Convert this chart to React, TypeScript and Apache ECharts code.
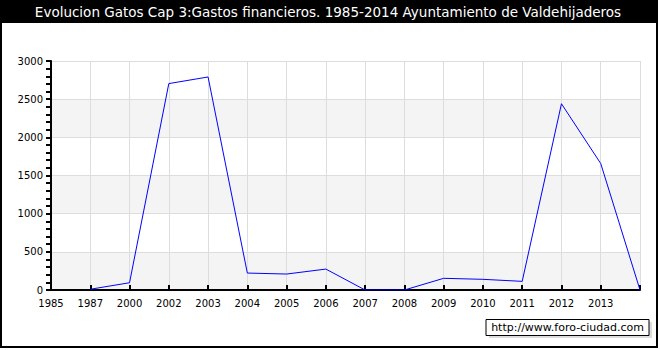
import React, { useEffect, useRef } from "react";
import * as echarts from "echarts";

const years = ["1985", "1987", "2000", "2002", "2003", "2004", "2005", "2006", "2007", "2008", "2009", "2010", "2011", "2012", "2013", "2014"];
const gastos: (number | null)[] = [null, 10, 95, 2704, 2791, 222, 209, 274, 0, 0, 153, 140, 113, 2440, 1657, 0];
const yTicks = { min: 0, max: 3000, interval: 500 };
const titleText = "Evolucion Gatos Cap 3:Gastos financieros. 1985-2014 Ayuntamiento de Valdehijaderos";
const watermark = "http://www.foro-ciudad.com";

export default function App() {
  const ref = useRef<HTMLDivElement>(null);
  useEffect(() => {
    document.body.style.margin = "0";
    const chart = echarts.init(ref.current!, null, { renderer: "svg" });
    const font = "DejaVu Sans";
    chart.setOption({
      animation: false,
      backgroundColor: "#ffffff",
      grid: { left: 51, right: 20, top: 61, bottom: 60, show: false },
      xAxis: {
        type: "category",
        data: years,
        boundaryGap: false,
        axisLine: { lineStyle: { color: "#000", width: 2 } },
        axisTick: { inside: true, length: 5, lineStyle: { color: "#000", width: 2 }, interval: 0 },
        axisLabel: {
          interval: 0,
          color: "#000",
          fontFamily: font,
          fontSize: 10,
          margin: 8,
          formatter: (v: string, i: number) => (i === years.length - 1 ? "" : v),
        },
        splitLine: { show: true, interval: 0, lineStyle: { color: "#dddddd", width: 1 } },
      },
      yAxis: {
        type: "value",
        min: yTicks.min,
        max: yTicks.max,
        interval: yTicks.interval,
        axisLine: { show: true, lineStyle: { color: "#000", width: 2 } },
        axisTick: { show: true, length: 5, lineStyle: { color: "#000", width: 2 } },
        minorTick: { show: true, splitNumber: 5, length: 5, lineStyle: { color: "#000", width: 2 } },
        axisLabel: { color: "#000", fontFamily: font, fontSize: 10, margin: 8, formatter: (v: number) => String(v) },
        splitLine: { show: true, lineStyle: { color: "#dddddd", width: 1 } },
        splitArea: { show: true, areaStyle: { color: ["#f4f4f4", "#ffffff"] } },
      },
      series: [
        {
          type: "line",
          data: gastos,
          showSymbol: false,
          symbol: "none",
          connectNulls: false,
          lineStyle: { color: "#0000ff", width: 1 },
          z: 5,
        },
      ],
      graphic: [
        { type: "rect", shape: { x: 0, y: 0, width: 658, height: 23 }, style: { fill: "#000" }, z: 10 },
        {
          type: "text",
          x: 328,
          y: 12,
          style: { text: titleText, fill: "#fff", font: `13.5px ${font}`, align: "center", verticalAlign: "middle" },
          z: 11,
        },
        { type: "rect", shape: { x: 1, y: 1, width: 656, height: 346 }, style: { fill: "none", stroke: "#000", lineWidth: 2 }, z: 10 },
        { type: "rect", shape: { x: 489, y: 322, width: 163, height: 16 }, style: { fill: "#dddddd" }, z: 10 },
        { type: "rect", shape: { x: 486, y: 319.5, width: 163, height: 16 }, style: { fill: "#fff", stroke: "#000", lineWidth: 1 }, z: 11 },
        {
          type: "text",
          x: 567.5,
          y: 327.5,
          style: { text: watermark, fill: "#000", font: `11px ${font}`, align: "center", verticalAlign: "middle" },
          z: 12,
        },
      ],
    });
    return () => chart.dispose();
  }, []);
  return <div ref={ref} style={{ width: 660, height: 350 }} />;
}
